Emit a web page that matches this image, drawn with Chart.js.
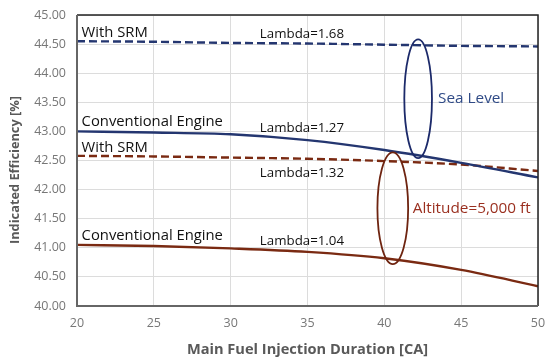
<!DOCTYPE html>
<html>
<head>
<meta charset="utf-8">
<script src="https://cdn.jsdelivr.net/npm/chart.js@4.4.1/dist/chart.umd.min.js"></script>
<style>
  html, body { margin: 0; padding: 0; background: #fff; }
  #wrap { width: 550px; height: 363px; }
</style>
</head>
<body>
<div id="wrap"><canvas id="chart"></canvas></div>
<script>
// Données
const injectionDuration = [20, 25, 30, 35, 40, 45, 50];
const seaLevelSrm = [44.55, 44.54, 44.52, 44.51, 44.49, 44.47, 44.46];
const seaLevelConventional = [43.00, 42.98, 42.95, 42.85, 42.68, 42.46, 42.21];
const altitudeSrm = [42.58, 42.57, 42.55, 42.53, 42.49, 42.43, 42.32];
const altitudeConventional = [41.05, 41.03, 40.99, 40.93, 40.82, 40.62, 40.34];
const yTicks = [40, 40.5, 41, 41.5, 42, 42.5, 43, 43.5, 44, 44.5, 45];

const NAVY = '#243670';
const BROWN = '#7a2a12';

// Annotations (coordonnées en unités de données)
const labels = [
  { text: 'With SRM', x: 20.3, y: 44.69, color: '#111' },
  { text: 'Lambda=1.68', x: 31.9, y: 44.67, color: '#111', small: true },
  { text: 'Conventional Engine', x: 20.3, y: 43.17, color: '#111' },
  { text: 'Lambda=1.27', x: 31.9, y: 43.05, color: '#111', small: true },
  { text: 'With SRM', x: 20.3, y: 42.71, color: '#111' },
  { text: 'Lambda=1.32', x: 31.9, y: 42.28, color: '#111', small: true },
  { text: 'Conventional Engine', x: 20.3, y: 41.21, color: '#111' },
  { text: 'Lambda=1.04', x: 31.9, y: 41.12, color: '#111', small: true },
  { text: 'Sea Level', x: 43.5, y: 43.56, color: '#2f4a86', big: true },
  { text: 'Altitude=5,000 ft', x: 41.85, y: 41.67, color: '#9a2f1f', big: true }
];
const ellipses = [
  { x: 42.2, y: 43.56, rx: 0.9, ry: 1.02, color: '#1c2a6a' },
  { x: 40.55, y: 41.68, rx: 1.0, ry: 0.96, color: '#6e2410' }
];

const overlay = {
  id: 'overlay',
  afterDatasetsDraw(chart) {
    const { ctx, chartArea: a, scales: { x, y } } = chart;
    ctx.save();
    // cadre du graphique
    ctx.strokeStyle = '#222';
    ctx.lineWidth = 1.5;
    ctx.beginPath();
    ctx.moveTo(a.left, a.top);
    ctx.lineTo(a.right, a.top);
    ctx.lineTo(a.right, a.bottom);
    ctx.stroke();
    ctx.strokeStyle = '#666';
    ctx.lineWidth = 2;
    ctx.beginPath();
    ctx.moveTo(a.left, a.top);
    ctx.lineTo(a.left, a.bottom);
    ctx.lineTo(a.right, a.bottom);
    ctx.stroke();

    ellipses.forEach(e => {
      const cx = x.getPixelForValue(e.x);
      const cy = y.getPixelForValue(e.y);
      const rx = Math.abs(x.getPixelForValue(e.x + e.rx) - cx);
      const ry = Math.abs(y.getPixelForValue(e.y + e.ry) - cy);
      ctx.strokeStyle = e.color;
      ctx.lineWidth = 1.8;
      ctx.beginPath();
      ctx.ellipse(cx, cy, rx, ry, 0, 0, Math.PI * 2);
      ctx.stroke();
    });

    ctx.textBaseline = 'middle';
    ctx.textAlign = 'left';
    labels.forEach(l => {
      ctx.font = l.small ? '13.3px "Open Sans"' : l.big ? '15.3px "Open Sans"' : '14.8px "Open Sans"';
      ctx.fillStyle = l.color;
      ctx.fillText(l.text, x.getPixelForValue(l.x), y.getPixelForValue(l.y));
    });

    // titre de l'axe Y, un peu sous le centre comme sur l'original
    ctx.translate(15, 170);
    ctx.rotate(-Math.PI / 2);
    ctx.textAlign = 'center';
    ctx.font = 'bold 12.8px "Open Sans"';
    ctx.fillStyle = '#595959';
    ctx.fillText('Indicated Efficiency [%]', 0, 0);
    ctx.restore();
  }
};

new Chart(document.getElementById('chart'), {
  type: 'line',
  data: {
    labels: injectionDuration,
    datasets: [
      { data: seaLevelSrm, borderColor: NAVY, borderDash: [8, 4] },
      { data: seaLevelConventional, borderColor: NAVY },
      { data: altitudeSrm, borderColor: BROWN, borderDash: [8, 4] },
      { data: altitudeConventional, borderColor: BROWN }
    ].map(d => Object.assign({
      borderWidth: 2.4, pointRadius: 0, tension: 0.4, cubicInterpolationMode: 'monotone', fill: false
    }, d))
  },
  options: {
    responsive: true,
    maintainAspectRatio: false,
    animation: false,
    layout: { padding: { top: 15, right: 12, left: 0, bottom: 0 } },
    plugins: { legend: { display: false }, tooltip: { enabled: false } },
    scales: {
      x: {
        type: 'linear', min: 20, max: 50,
        afterBuildTicks: s => { s.ticks = injectionDuration.map(v => ({ value: v })); },
        grid: { color: '#dcdcdc', lineWidth: 1, drawTicks: false },
        border: { display: false },
        ticks: { color: '#777', font: { family: 'Open Sans', size: 12.5 }, padding: 10 },
        title: { display: true, text: 'Main Fuel Injection Duration [CA]', color: '#595959',
                 font: { family: 'Open Sans', size: 14.6, weight: 'bold' }, padding: { top: 2 } },
        afterFit: s => { s.height = 57; s.paddingLeft = 0; s.paddingRight = 0; }
      },
      y: {
        min: 40, max: 45,
        afterBuildTicks: s => { s.ticks = yTicks.map(v => ({ value: v })); },
        grid: { color: '#dcdcdc', lineWidth: 1, drawTicks: false },
        border: { display: false },
        ticks: { color: '#777', font: { family: 'Open Sans', size: 12.5 }, padding: 11,
                 callback: v => v.toFixed(2) },
        title: { display: false },
        afterFit: s => { s.width = 77; s.paddingTop = 0; s.paddingBottom = 0; }
      }
    }
  },
  plugins: [overlay]
});
</script>
</body>
</html>
